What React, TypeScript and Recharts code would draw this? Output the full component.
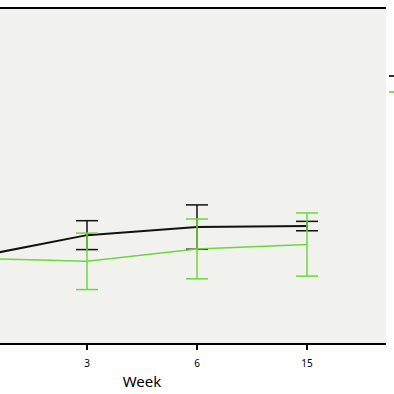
import React from 'react';
import { LineChart, Line, XAxis, YAxis, ErrorBar, CartesianGrid, Legend } from 'recharts';

const weeks = ['0', '3', '6', '15'];
const groupAMean = [26.0, 32.4, 34.8, 35.1];
const groupAErr = [3.5, 4.3, 6.6, 1.4];
const groupBMean = [25.5, 24.6, 28.3, 29.6];
const groupBErr = [4.0, 8.4, 8.9, 9.4];
const yMax = 100;

const data = weeks.map((w, i) => ({
  week: w,
  a: groupAMean[i],
  aErr: groupAErr[i],
  b: groupBMean[i],
  bErr: groupBErr[i],
}));

const GREEN = '#6cd83c';

export default function App() {
  return (
    <div style={{ position: 'fixed', left: 0, top: 0, width: 394, height: 394, overflow: 'hidden', background: '#fff' }}>
      <div style={{ position: 'absolute', left: -110, top: 0 }}>
        <LineChart
          width={520}
          height={394}
          data={data}
          margin={{ top: 8, right: 24, bottom: 0, left: 8 }}
        >
          <CartesianGrid
            fill="#f1f1ed"
            stroke="#000"
            strokeWidth={2}
            vertical={false}
            horizontal
            horizontalCoordinatesGenerator={(props: any) => [props.offset.top]}
          />
          <XAxis
            dataKey="week"
            type="category"
            scale="point"
            padding={{ left: 79, right: 79 }}
            height={50}
            axisLine={{ stroke: '#000', strokeWidth: 2 }}
            tickLine={{ stroke: '#000', strokeWidth: 2 }}
            tickSize={6}
            tickMargin={10}
            tick={{ fill: '#000', fontSize: 10, fontFamily: 'Noto Sans' }}
            label={{ value: 'Week', position: 'insideBottom', offset: 7, fill: '#000', fontSize: 15, fontFamily: 'Noto Sans' }}
          />
          <YAxis domain={[0, yMax]} hide width={0} />
          <YAxis
            yAxisId="right"
            orientation="right"
            width={0}
            tick={false}
            tickLine={false}
            axisLine={{ stroke: '#000', strokeWidth: 2 }}
          />
          <Legend
            layout="vertical"
            align="center"
            verticalAlign="middle"
            iconType="plainline"
            iconSize={14}
            wrapperStyle={{ left: 499, top: 67, width: 120, fontSize: 11, lineHeight: '16px', fontFamily: 'Noto Sans' }}
          />
          <Line
            name="Group A"
            dataKey="a"
            stroke="#111"
            strokeWidth={2}
            dot={false}
            isAnimationActive={false}
          >
            <ErrorBar dataKey="aErr" width={11} stroke="#111" strokeWidth={1.5} direction="y" />
          </Line>
          <Line
            name="Group B"
            dataKey="b"
            stroke={GREEN}
            strokeWidth={1.5}
            dot={false}
            isAnimationActive={false}
          >
            <ErrorBar dataKey="bErr" width={11} stroke={GREEN} strokeWidth={1.5} direction="y" />
          </Line>
        </LineChart>
      </div>
    </div>
  );
}
